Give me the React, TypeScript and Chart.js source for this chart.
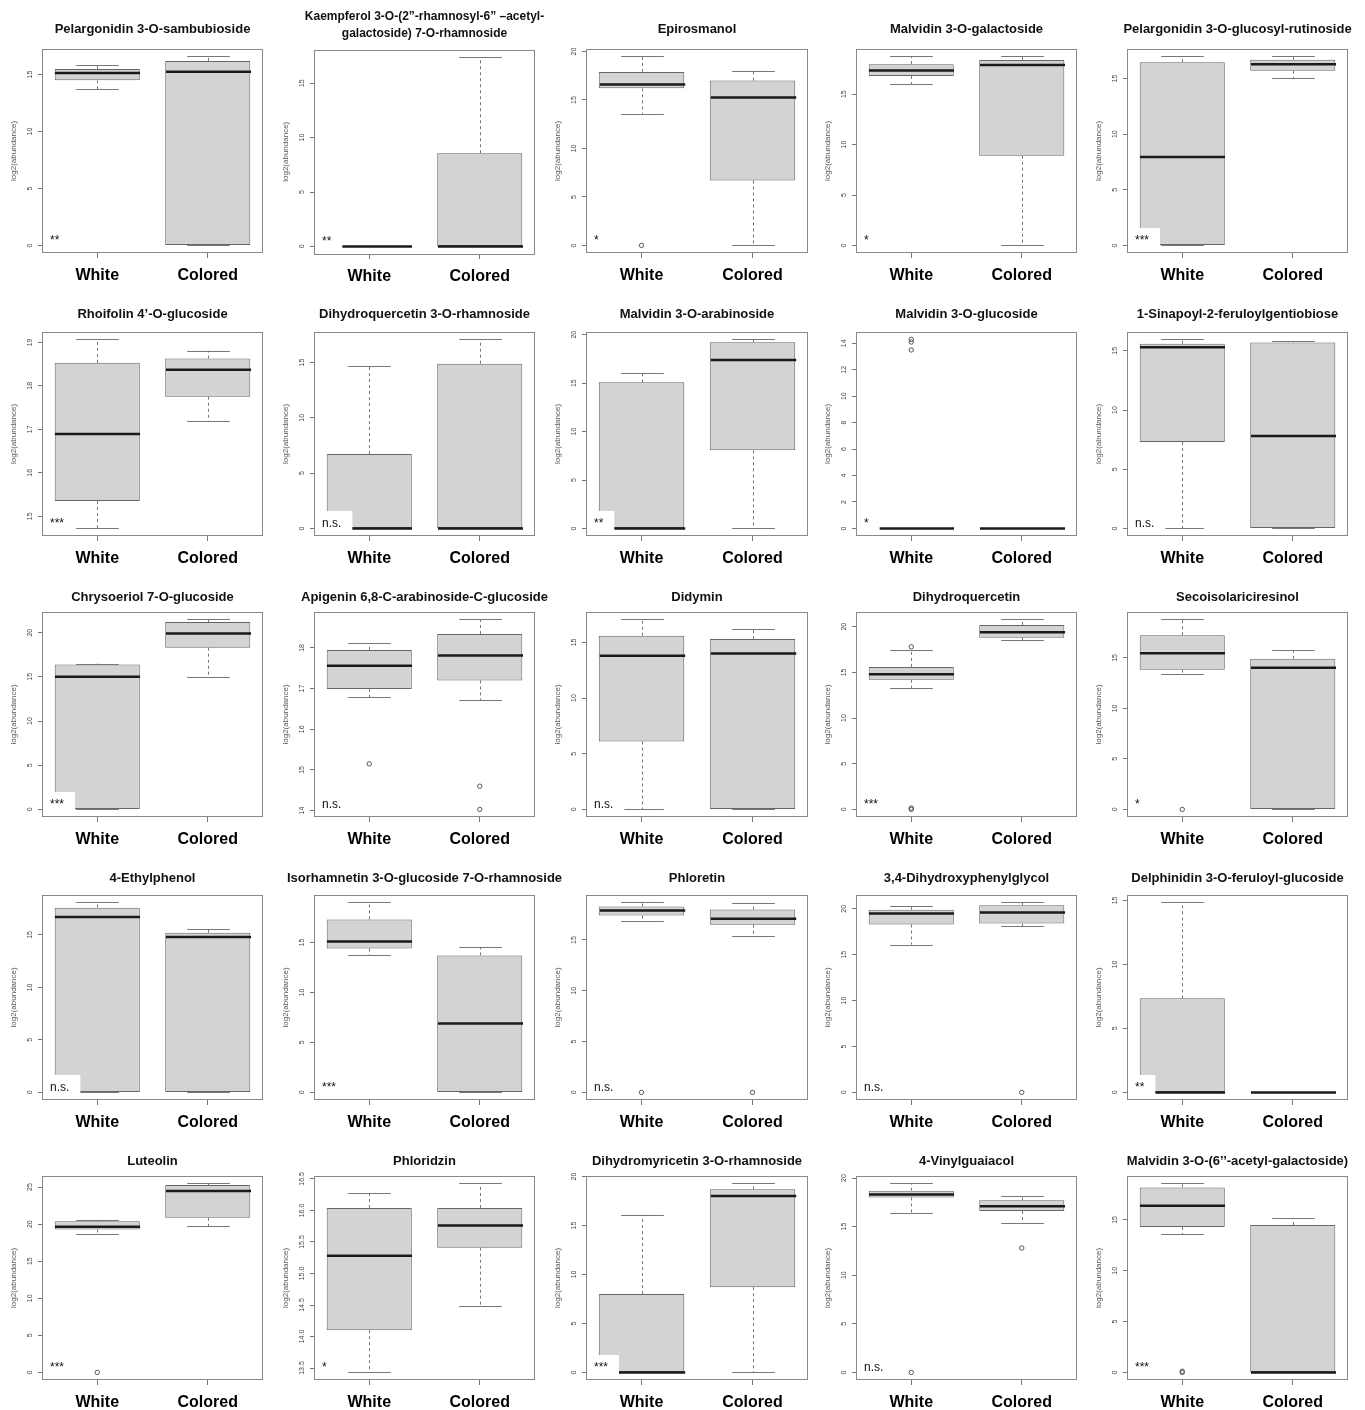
import React, { useEffect, useRef } from 'react';
import { Chart, registerables } from 'chart.js';

Chart.register(...registerables);

const FONT = '"Liberation Sans", Arial, Helvetica, sans-serif';

// ---------------- DATA ----------------
const GROUPS = ['White', 'Colored'];

const TITLES: (string | string[])[] = [
  'Pelargonidin 3-O-sambubioside',
  ['Kaempferol 3-O-(2\u201d-rhamnosyl-6\u201d \u2013acetyl-', 'galactoside) 7-O-rhamnoside'],
  'Epirosmanol',
  'Malvidin 3-O-galactoside',
  'Pelargonidin 3-O-glucosyl-rutinoside',
  'Rhoifolin 4\u2019-O-glucoside',
  'Dihydroquercetin 3-O-rhamnoside',
  'Malvidin 3-O-arabinoside',
  'Malvidin 3-O-glucoside',
  '1-Sinapoyl-2-feruloylgentiobiose',
  'Chrysoeriol 7-O-glucoside',
  'Apigenin 6,8-C-arabinoside-C-glucoside',
  'Didymin',
  'Dihydroquercetin',
  'Secoisolariciresinol',
  '4-Ethylphenol',
  'Isorhamnetin 3-O-glucoside 7-O-rhamnoside',
  'Phloretin',
  '3,4-Dihydroxyphenylglycol',
  'Delphinidin 3-O-feruloyl-glucoside',
  'Luteolin',
  'Phloridzin',
  'Dihydromyricetin 3-O-rhamnoside',
  '4-Vinylguaiacol',
  'Malvidin 3-O-(6\u2019\u2019-acetyl-galactoside)',
];

// [lower whisker, Q1, median, Q3, upper whisker]
const WHITE_STATS: number[][] = [
  [13.7, 14.5, 15.15, 15.5, 15.85],
  [0, 0, 0, 0, 0],
  [13.6, 16.2, 16.6, 17.9, 19.5],
  [16.0, 16.8, 17.35, 17.98, 18.75],
  [0, 0, 7.95, 16.47, 17.0],
  [14.72, 15.35, 16.89, 18.53, 19.07],
  [0, 0, 0, 6.73, 14.7],
  [0, 0, 0, 15.08, 16.08],
  [0, 0, 0, 0, 0],
  [0, 7.3, 15.3, 15.6, 15.97],
  [0, 0, 15.0, 16.4, 16.5],
  [16.79, 16.99, 17.56, 17.95, 18.12],
  [0, 6.1, 13.8, 15.6, 17.07],
  [13.3, 14.2, 14.8, 15.6, 17.4],
  [13.37, 13.84, 15.47, 17.26, 18.82],
  [0, 0, 16.7, 17.6, 18.1],
  [13.7, 14.4, 15.1, 17.3, 19.0],
  [16.9, 17.4, 17.9, 18.3, 18.7],
  [16.1, 18.3, 19.5, 19.9, 20.3],
  [0, 0, 0, 7.35, 14.85],
  [18.7, 19.29, 19.65, 20.4, 20.55],
  [13.43, 14.1, 15.28, 16.04, 16.28],
  [0, 0, 0, 8.0, 16.1],
  [16.4, 18.0, 18.3, 18.7, 19.45],
  [13.6, 14.3, 16.4, 18.2, 18.6],
];

const COLORED_STATS: number[][] = [
  [0, 0, 15.25, 16.2, 16.6],
  [0, 0, 0, 8.56, 17.4],
  [0, 6.7, 15.25, 17.0, 18.0],
  [0, 8.9, 17.9, 18.4, 18.75],
  [15.06, 15.7, 16.3, 16.7, 17.0],
  [17.19, 17.75, 18.37, 18.63, 18.81],
  [0, 0, 0, 14.9, 17.1],
  [0, 8.06, 17.38, 19.21, 19.52],
  [0, 0, 0, 0, 0],
  [0, 0, 7.8, 15.7, 15.8],
  [15.0, 18.3, 19.9, 21.2, 21.5],
  [16.72, 17.2, 17.81, 18.34, 18.7],
  [0, 0, 14.0, 15.3, 16.2],
  [18.5, 18.8, 19.4, 20.2, 20.8],
  [0, 0, 14.04, 14.93, 15.8],
  [0, 0, 14.8, 15.2, 15.6],
  [0, 0, 6.9, 13.7, 14.5],
  [15.4, 16.5, 17.1, 18.0, 18.6],
  [18.1, 18.4, 19.6, 20.4, 20.7],
  [0, 0, 0, 0, 0],
  [19.74, 20.86, 24.46, 25.27, 25.5],
  [14.48, 15.41, 15.76, 16.04, 16.43],
  [0, 8.7, 18.0, 18.7, 19.3],
  [15.4, 16.6, 17.1, 17.7, 18.2],
  [0, 0, 0, 14.5, 15.2],
];

const WHITE_OUTLIERS: number[][] = [
  [], [], [0], [], [],
  [], [], [], [14.3, 14.1, 13.5], [],
  [], [15.15], [], [17.8, 0, 0.15], [0],
  [], [], [0], [], [],
  [0], [], [], [0], [0, 0.12],
];

const COLORED_OUTLIERS: number[][] = [
  [], [], [], [], [],
  [], [], [], [], [],
  [], [14.6, 14.03], [], [], [],
  [], [], [0], [0], [],
  [], [], [], [12.8], [],
];

const SIGNIFICANCE: string[] = [
  '**', '**', '*', '*', '***',
  '***', 'n.s.', '**', '*', 'n.s.',
  '***', 'n.s.', 'n.s.', '***', '*',
  'n.s.', '***', 'n.s.', 'n.s.', '**',
  '***', '*', '***', 'n.s.', '***',
];

const Y_TICKS: number[][] = [
  [0, 5, 10, 15], [0, 5, 10, 15], [0, 5, 10, 15, 20], [0, 5, 10, 15], [0, 5, 10, 15],
  [15, 16, 17, 18, 19], [0, 5, 10, 15], [0, 5, 10, 15, 20], [0, 2, 4, 6, 8, 10, 12, 14], [0, 5, 10, 15],
  [0, 5, 10, 15, 20], [14, 15, 16, 17, 18], [0, 5, 10, 15], [0, 5, 10, 15, 20], [0, 5, 10, 15],
  [0, 5, 10, 15], [0, 5, 10, 15], [0, 5, 10, 15], [0, 5, 10, 15, 20], [0, 5, 10, 15],
  [0, 5, 10, 15, 20, 25], [13.5, 14, 14.5, 15, 15.5, 16, 16.5], [0, 5, 10, 15, 20], [0, 5, 10, 15, 20], [0, 5, 10, 15],
];

const Y_TITLE = 'log2(abundance)';

// ---------------- LAYOUT ----------------
const COL_LEFT = [42, 314, 586, 856, 1127];
const COL_RIGHT = [263, 535, 808, 1077, 1348];
const ROW_TOP = [49, 332, 612, 895, 1176];
const ROW_BOTTOM = [253, 536, 817, 1100, 1380];
const TITLE_CENTER = [30, 315, 598, 879, 1162];
const SIDE = 42;
const X_AXIS_H = 34;

const boxPlugin = {
  id: 'boxExtras',
  afterDatasetsDraw(chart: any, _args: any, opts: any) {
    const { ctx, chartArea } = chart;
    const ys = chart.scales.y;
    const meta = chart.getDatasetMeta(0);
    const p = (v: number) => ys.getPixelForValue(v);
    (opts.stats as number[][]).forEach((st, i) => {
      const el = meta.data[i];
      if (!el) return;
      const cx = Math.round(el.x) + 0.5;
      const w = el.width;
      const [lo, q1, med, q3, hi] = st;
      ctx.save();
      ctx.strokeStyle = '#777';
      ctx.lineWidth = 1;
      ctx.setLineDash([3, 3]);
      ctx.beginPath();
      ctx.moveTo(cx, p(q3));
      ctx.lineTo(cx, p(hi));
      ctx.moveTo(cx, p(q1));
      ctx.lineTo(cx, p(lo));
      ctx.stroke();
      ctx.setLineDash([]);
      ctx.beginPath();
      const yh = Math.round(p(hi)) + 0.5;
      const yl = Math.round(p(lo)) + 0.5;
      ctx.moveTo(cx - w / 4, yh);
      ctx.lineTo(cx + w / 4, yh);
      ctx.moveTo(cx - w / 4, yl);
      ctx.lineTo(cx + w / 4, yl);
      ctx.stroke();
      ctx.strokeStyle = '#1a1a1a';
      ctx.lineWidth = 2.5;
      ctx.beginPath();
      ctx.moveTo(cx - w / 2, p(med));
      ctx.lineTo(cx + w / 2, p(med));
      ctx.stroke();
      ctx.restore();
    });
    const sig: string = opts.sig;
    if (sig) {
      ctx.save();
      ctx.font = `12px ${FONT}`;
      const tw = ctx.measureText(sig).width;
      ctx.fillStyle = '#ffffff';
      ctx.fillRect(chartArea.left + 1, chartArea.bottom - 25, tw + 18, 24);
      ctx.fillStyle = '#111';
      ctx.textAlign = 'left';
      ctx.textBaseline = 'alphabetic';
      ctx.fillText(sig, chartArea.left + 8, chartArea.bottom - 9);
      ctx.restore();
    }
  },
  afterDraw(chart: any) {
    const { ctx, chartArea } = chart;
    ctx.save();
    ctx.strokeStyle = '#888';
    ctx.lineWidth = 1;
    ctx.strokeRect(
      Math.round(chartArea.left) + 0.5,
      Math.round(chartArea.top) + 0.5,
      Math.round(chartArea.right - chartArea.left) - 1,
      Math.round(chartArea.bottom - chartArea.top) - 1
    );
    ctx.restore();
  },
};

function fmtTicks(ticks: number[]): string[] {
  const dec = ticks.some((t) => !Number.isInteger(t)) ? 1 : 0;
  return ticks.map((t) => t.toFixed(dec));
}

function Panel({ idx }: { idx: number }) {
  const ref = useRef<HTMLCanvasElement | null>(null);
  const row = Math.floor(idx / 5);
  const col = idx % 5;
  const title = TITLES[idx];
  const lines = Array.isArray(title) ? title.length : 1;
  const titleSize = lines > 1 ? 12 : 13;
  const lh = lines > 1 ? 17 : 15.6;
  const pt = 2;
  const firstCenter = lines > 1 ? TITLE_CENTER[row] - 14 : TITLE_CENTER[row];
  const boxTop = ROW_TOP[row];
  const boxH = ROW_BOTTOM[row] - ROW_TOP[row];
  const pb = boxTop - firstCenter - lines * lh + lh / 2;
  const titleH = pt + lines * lh + pb;
  const width = COL_RIGHT[col] - COL_LEFT[col] + 2 * SIDE;
  const height = Math.round(titleH + boxH + X_AXIS_H);
  const left = COL_LEFT[col] - SIDE;
  const top = Math.round(boxTop - titleH);

  useEffect(() => {
    const canvas = ref.current;
    if (!canvas) return;
    const ws = WHITE_STATS[idx];
    const cs = COLORED_STATS[idx];
    const wo = WHITE_OUTLIERS[idx];
    const co = COLORED_OUTLIERS[idx];
    const all = [...ws, ...cs, ...wo, ...co];
    const dmin = Math.min(...all);
    const dmax = Math.max(...all);
    const pad = (dmax - dmin) * 0.04;
    const ticks = Y_TICKS[idx];
    const labels = fmtTicks(ticks);
    const mctx = document.createElement('canvas').getContext('2d') as CanvasRenderingContext2D;
    mctx.font = `7px ${FONT}`;
    const widest = Math.max(...labels.map((l) => mctx.measureText(l).width));
    const tickPad = Math.max(0, 12 - 4 - widest / 2);

    const chart = new Chart(canvas, {
      type: 'bar',
      data: {
        labels: GROUPS,
        datasets: [
          {
            type: 'bar',
            data: [[ws[1], ws[3]], [cs[1], cs[3]]] as any,
            backgroundColor: '#d3d3d3',
            borderColor: '#666',
            borderWidth: 1,
            borderSkipped: false,
            barPercentage: 0.77,
            categoryPercentage: 1,
          } as any,
          {
            type: 'line',
            data: [
              ...wo.map((v) => ({ x: GROUPS[0], y: v })),
              ...co.map((v) => ({ x: GROUPS[1], y: v })),
            ] as any,
            showLine: false,
            pointRadius: 2.2,
            pointBorderWidth: 1,
            pointBorderColor: '#555',
            pointBackgroundColor: 'rgba(0,0,0,0)',
          } as any,
        ],
      },
      options: {
        responsive: false,
        animation: false,
        events: [],
        layout: { padding: 0 },
        plugins: {
          legend: { display: false },
          tooltip: { enabled: false },
          title: {
            display: true,
            text: title as any,
            fullSize: true,
            color: '#111',
            font: { family: FONT, size: titleSize, weight: 'bold', lineHeight: `${lh}px` } as any,
            padding: { top: pt, bottom: pb },
          },
          boxExtras: { stats: [ws, cs], sig: SIGNIFICANCE[idx] },
        } as any,
        scales: {
          x: {
            type: 'category',
            offset: true,
            grid: { display: true, drawOnChartArea: false, drawTicks: true, tickLength: 5, offset: false, color: '#777' },
            border: { display: false },
            ticks: { color: '#000', font: { family: FONT, size: 16, weight: 'bold' }, padding: 8, maxRotation: 0, autoSkip: false },
            afterFit: (s: any) => {
              s.height = X_AXIS_H;
            },
          },
          y: {
            type: 'linear',
            position: 'left',
            min: dmin - pad,
            max: dmax + pad,
            grid: { display: true, drawOnChartArea: false, drawTicks: true, tickLength: 4, color: '#777' },
            border: { display: false },
            ticks: {
              color: '#444',
              font: { family: FONT, size: 7 },
              minRotation: 90,
              maxRotation: 90,
              crossAlign: 'center',
              padding: tickPad,
              autoSkip: false,
              callback: (v: any) => {
                const k = ticks.indexOf(Number(v));
                return k >= 0 ? labels[k] : '';
              },
            },
            title: {
              display: true,
              text: Y_TITLE,
              color: '#555',
              font: { family: FONT, size: 8 },
              padding: { top: 9, bottom: 0 },
            },
            afterBuildTicks: (s: any) => {
              s.ticks = ticks.map((v) => ({ value: v }));
            },
            afterFit: (s: any) => {
              s.width = SIDE;
            },
          },
          yRight: {
            type: 'linear',
            position: 'right',
            display: true,
            min: dmin - pad,
            max: dmax + pad,
            grid: { display: false },
            border: { display: false },
            ticks: { display: false },
            afterFit: (s: any) => {
              s.width = SIDE;
            },
          },
        } as any,
      },
      plugins: [boxPlugin as any],
    });
    return () => chart.destroy();
  }, [idx]);

  return (
    <canvas
      ref={ref}
      width={width}
      height={height}
      style={{ position: 'absolute', left, top, width, height }}
    />
  );
}

export default function App() {
  return (
    <div style={{ position: 'absolute', left: 0, top: 0, width: 1365, height: 1410, background: '#fff', overflow: 'hidden' }}>
      {TITLES.map((_, i) => (
        <Panel key={i} idx={i} />
      ))}
    </div>
  );
}
